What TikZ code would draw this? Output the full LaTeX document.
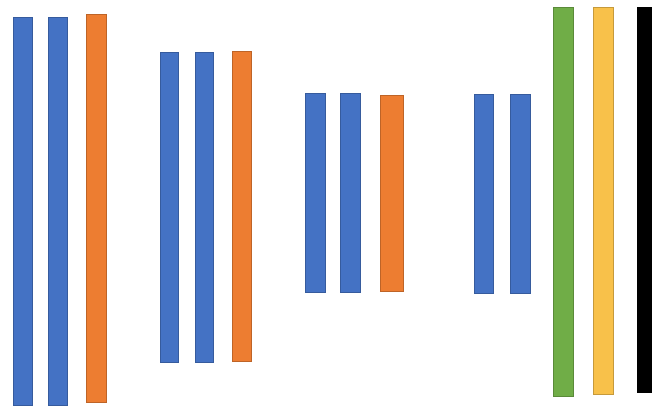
\documentclass[tikz,border=0pt]{standalone}
\usepackage{xcolor}
\usepackage{tikz}

\definecolor{barblue}{HTML}{4472C4}
\definecolor{barorange}{HTML}{ED7D31}
\definecolor{bargreen}{HTML}{70AD47}
\definecolor{baryellow}{HTML}{F8C14A}

\begin{document}
\begin{tikzpicture}[x=1pt,y=-1pt,
        bluebar/.style={fill=barblue, draw=barblue!80!black, line width=0.8pt},
        orangebar/.style={fill=barorange, draw=barorange!80!black, line width=0.8pt},
        greenbar/.style={fill=bargreen, draw=bargreen!80!black, line width=0.8pt},
        yellowbar/.style={fill=baryellow, draw=baryellow!80!black, line width=0.8pt}]
        \useasboundingbox (0,0) rectangle (652,408);

        % Blue bars: left, top, right, bottom
        \foreach \l/\t/\r/\b in {13/17/32/405, 48/17/67/405,
                                 160/52/178/362, 195/52/213/362,
                                 305/93/325/292, 340/93/360/292,
                                 474/94/493/293, 510/94/530/293}
            \draw[bluebar] (\l,\t) rectangle (\r,\b);

        % Orange bars
        \foreach \l/\t/\r/\b in {86/14/106/402, 232/51/251/361, 380/95/403/291}
            \draw[orangebar] (\l,\t) rectangle (\r,\b);

        % Last group
        \draw[greenbar] (553,7) rectangle (573,396);
        \draw[yellowbar] (593,7) rectangle (613,394);
        \fill[black] (637,7) rectangle (652,393);

    \end{tikzpicture}
\end{document}
